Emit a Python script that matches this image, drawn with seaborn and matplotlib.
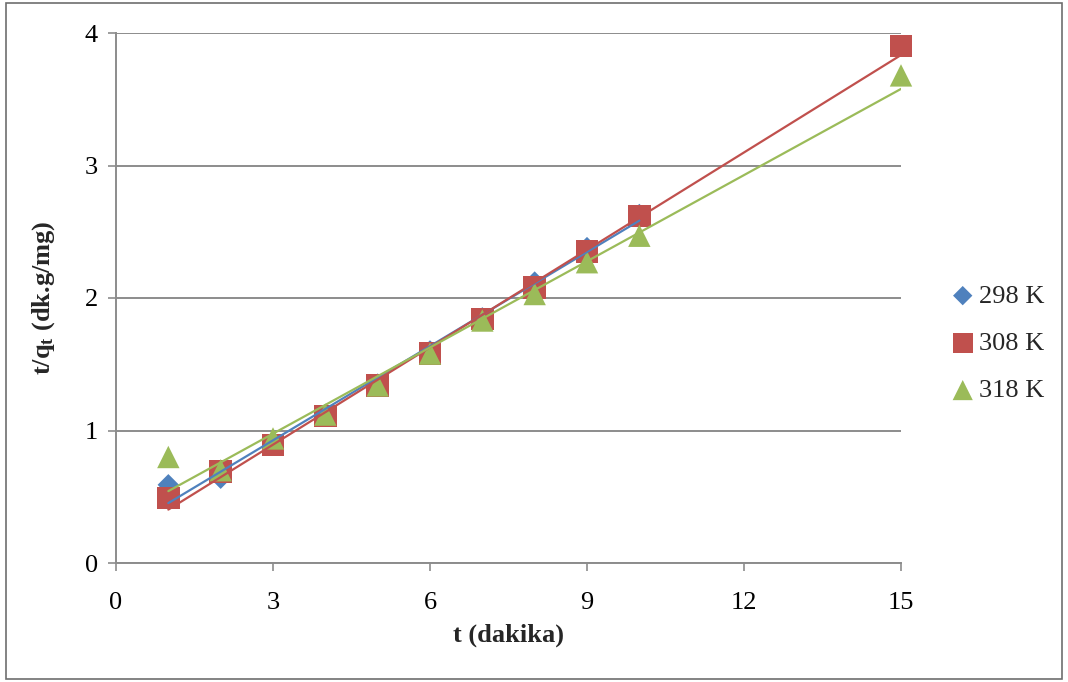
import numpy as np
import pandas as pd
import matplotlib
matplotlib.use("Agg")
import matplotlib.pyplot as plt
from matplotlib.patches import Rectangle
import seaborn as sns

# Pseudo-second-order kinetics: t/q_t versus contact time
t_298 = [1, 2, 3, 4, 5, 6, 7, 8, 9, 10]
y_298 = [0.59, 0.64, 0.90, 1.12, 1.35, 1.60, 1.85, 2.12, 2.38, 2.63]

t_308 = [1, 2, 3, 4, 5, 6, 7, 8, 9, 10, 15]
y_308 = [0.49, 0.69, 0.89, 1.11, 1.34, 1.58, 1.84, 2.08, 2.35, 2.62, 3.90]

t_318 = [1, 2, 3, 4, 5, 6, 7, 8, 9, 10, 15]
y_318 = [0.80, 0.70, 0.94, 1.12, 1.34, 1.58, 1.83, 2.03, 2.27, 2.47, 3.68]

series_names = ["298 K", "308 K", "318 K"]
colors = ["#4F81BD", "#C0504D", "#9BBB59"]
markers = ["D", "s", "^"]
marker_sizes = [120, 260, 260]

x_ticks = [0, 3, 6, 9, 12, 15]
y_ticks = [0, 1, 2, 3, 4]

frames = []
for name, tx, ty in zip(series_names, [t_298, t_308, t_318], [y_298, y_308, y_318]):
    frames.append(pd.DataFrame({"t": tx, "tq": ty, "T": name}))
df = pd.concat(frames, ignore_index=True)

sns.set_theme(style="white")
plt.rcParams["font.family"] = ["Liberation Serif", "DejaVu Serif"]
plt.rcParams["mathtext.fontset"] = "custom"
plt.rcParams["mathtext.rm"] = "Liberation Serif"
plt.rcParams["mathtext.bf"] = "Liberation Serif:bold"
plt.rcParams["mathtext.it"] = "Liberation Serif:italic"

fig = plt.figure(figsize=(10.68, 6.82), dpi=100)
ax = fig.add_axes([116 / 1068, 1 - 563 / 682, (901 - 116) / 1068, (563 - 33) / 682])

for name, col, mk, ms in zip(series_names, colors, markers, marker_sizes):
    sub = df[df["T"] == name]
    sns.scatterplot(data=sub, x="t", y="tq", marker=mk, color=col, s=ms,
                    edgecolor="none", ax=ax, label=name, zorder=3, clip_on=False)

for name, col in zip(series_names, colors):
    sub = df[df["T"] == name]
    sns.regplot(data=sub, x="t", y="tq", scatter=False, ci=None, truncate=True,
                color=col, line_kws={"lw": 1.6, "zorder": 4}, ax=ax)

ax.set_xlim(0, 15)
ax.set_ylim(0, 4)
ax.set_xticks(x_ticks)
ax.set_yticks(y_ticks)
ax.yaxis.grid(True, color="#8C8C8C", lw=1.4)
ax.xaxis.grid(False)
ax.set_axisbelow(True)

for side in ["top", "right"]:
    ax.spines[side].set_visible(False)
for side in ["left", "bottom"]:
    ax.spines[side].set_color("#8C8C8C")
    ax.spines[side].set_linewidth(1.4)

ax.tick_params(axis="both", which="major", direction="out", length=6, width=1.2,
               color="#8C8C8C", labelsize=19, labelcolor="black", pad=7,
               bottom=True, left=True)
ax.tick_params(axis="x", pad=15)

ax.set_xlabel("t (dakika)", fontsize=19, fontweight="bold", labelpad=7)
ax.set_ylabel(r"t/q$_\mathbf{t}$ (dk.g/mg)", fontsize=19, fontweight="bold", labelpad=20)

leg = ax.legend(loc="center left", bbox_to_anchor=(1.045, 0.415), frameon=False,
                fontsize=19, handletextpad=0.0, labelspacing=0.9, markerscale=0.9,
                borderaxespad=0, handlelength=1.2)

# outer chart border
fig.add_artist(Rectangle((6 / 1068, 1 - 679 / 682), (1062 - 6) / 1068, (679 - 3) / 682,
                         transform=fig.transFigure, fill=False, edgecolor="#6E6E6E", lw=1.2))

fig.savefig("out.png", dpi=100)
